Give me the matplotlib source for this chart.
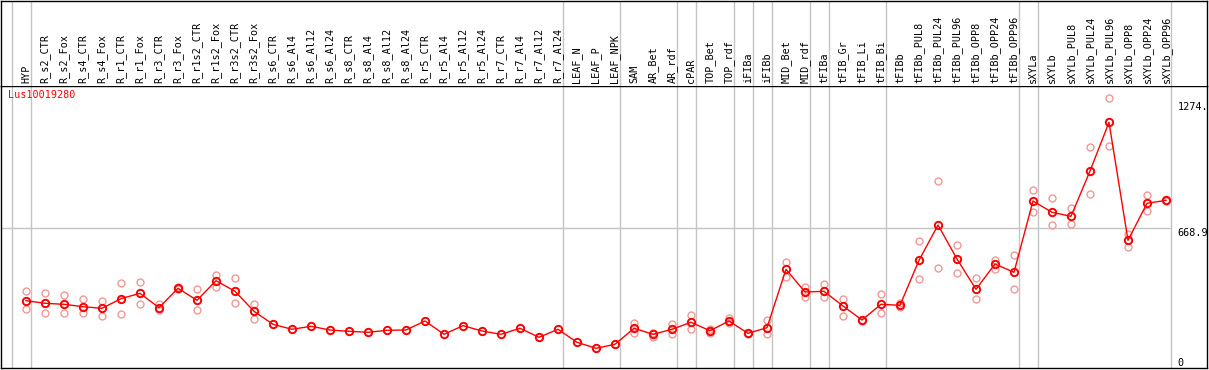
import matplotlib
matplotlib.use("Agg")
import matplotlib.pyplot as plt
import numpy as np

# sample names along the top
samples = ["HYP", "R_s2_CTR", "R_s2_Fox", "R_s4_CTR", "R_s4_Fox", "R_r1_CTR", "R_r1_Fox",
           "R_r3_CTR", "R_r3_Fox", "R_r1s2_CTR", "R_r1s2_Fox", "R_r3s2_CTR", "R_r3s2_Fox",
           "R_s6_CTR", "R_s6_Al4", "R_s6_Al12", "R_s6_Al24", "R_s8_CTR", "R_s8_Al4", "R_s8_Al12",
           "R_s8_Al24", "R_r5_CTR", "R_r5_Al4", "R_r5_Al12", "R_r5_Al24", "R_r7_CTR", "R_r7_Al4",
           "R_r7_Al12", "R_r7_Al24", "LEAF_N", "LEAF_P", "LEAF_NPK", "SAM", "AR_Bet", "AR_rdf",
           "cPAR", "TOP_Bet", "TOP_rdf", "iFIBa", "iFIBb", "MID_Bet", "MID_rdf", "tFIBa",
           "tFIB_Gr", "tFIB_Li", "tFIB_Bi", "tFIBb", "tFIBb_PUL8", "tFIBb_PUL24", "tFIBb_PUL96",
           "tFIBb_OPP8", "tFIBb_OPP24", "tFIBb_OPP96", "sXYLa", "sXYLb", "sXYLb_PUL8",
           "sXYLb_PUL24", "sXYLb_PUL96", "sXYLb_OPP8", "sXYLb_OPP24", "sXYLb_OPP96"]

# mean expression per sample
means = [322.2, 309.8, 305.0, 293.5, 285.8, 331.8, 357.7, 288.7, 381.6, 324.1, 418.0, 367.2,
         271.5, 209.2, 185.3, 199.7, 181.9, 175.7, 170.9, 180.5, 181.9, 225.0, 161.4, 202.5,
         177.2, 161.4, 190.1, 147.0, 185.3, 123.1, 94.3, 113.5, 190.1, 161.4, 185.3, 218.8,
         178.6, 225.0, 166.1, 193.0, 472.6, 363.9, 367.2, 296.9, 229.8, 305.0, 300.2, 515.7,
         684.7, 521.9, 376.8, 498.0, 458.2, 799.6, 745.5, 726.3, 943.2, 1176.4, 611.4, 788.6,
         802.9]

# replicates (None = no replicate drawn)
rep_a = [367.2, 357.7, 348.1, 328.9, 319.4, 405.5, 410.3, 307.9, 386.0, 376.8, 443.8, 429.5,
         306.4] + [None] * 19 + [216.9, 169.0, 209.2, 253.8, 188.2, 240.8, 169.0, 229.8,
         506.1, 389.3, 402.2, 330.4, 232.2, 354.3, 312.7, 606.6, 895.4, 588.9, 429.5, 518.5,
         541.0, 852.3, 812.5, 764.6, 1056.7, 1291.3, 640.2, 826.9, 805.8]
rep_b = [283.9, 261.9, 261.9, 261.9, 250.4, 257.1, 305.0, 277.7, 378.0, 276.3, 389.3, 309.8,
         236.0] + [None] * 19 + [166.1, 149.9, 162.8, 185.3, 166.1, 214.0, 162.8, 161.4,
         437.1, 338.5, 341.4, 249.0, 226.5, 261.9, 290.6, 424.7, 477.4, 454.9, 328.9, 474.0,
         376.8, 745.5, 683.2, 688.0, 831.7, 1061.5, 580.8, 750.3, 799.6]

# last sample index of each group (separators drawn just after)
group_ends = [-1, 0, 28, 31, 34, 35, 37, 38, 39, 41, 42, 45, 52, 53, 60]

gene = "Lus10019280"
mid_val = 668.9
tick_labels = [(1274, "1274.", "top"), (mid_val, "668.9", "top"), (0, "0", "bottom")]

W, H = 1209, 370
fig = plt.figure(figsize=(W / 100, H / 100), dpi=100)
mono = "DejaVu Sans Mono"
fs = 7.3

# pixel layout
left_px, right_px, sep_px, bot_px = 1, 1207, 86, 368
x0, dx = 26, 19
xlim = ((left_px - x0) / dx, (right_px - x0) / dx)
ax = fig.add_axes([left_px / W, (H - bot_px) / H, (right_px - left_px) / W, (bot_px - sep_px) / H])
hd = fig.add_axes([left_px / W, (H - sep_px) / H, (right_px - left_px) / W, (sep_px - 0.5) / H], sharex=ax)

x = np.arange(len(samples))
ra = np.array([np.nan if v is None else v for v in rep_a])
rb = np.array([np.nan if v is None else v for v in rep_b])

ax.plot(x, ra, "o", ms=5.0, mfc="none", mec="#f09898", mew=1.0, zorder=3)
ax.plot(x, rb, "o", ms=5.0, mfc="none", mec="#f09898", mew=1.0, zorder=3)
ax.plot(x, means, "-", color="red", lw=1.0, zorder=4)
ax.plot(x, means, "o", ms=5.3, mfc="none", mec="red", mew=1.4, zorder=5)

ax.set_xlim(*xlim)
ax.set_ylim(0, (bot_px - sep_px) * mid_val / (bot_px - 228.3))

sep_x = [g + 0.24 for g in group_ends]
for a in (ax, hd):
    for s in sep_x:
        a.axvline(s, color="#c4c4c4", lw=1.0, zorder=1)
    a.set_xticks([])
    a.set_yticks([])
    for sp in a.spines.values():
        sp.set_color("black")
        sp.set_linewidth(1.0)
hd.spines["bottom"].set_visible(False)
hd.set_ylim(0, 1)

ax.plot([xlim[0], sep_x[-1]], [mid_val, mid_val], color="#c4c4c4", lw=1.0, zorder=1)

for i, name in enumerate(samples):
    hd.text(i, 0.03, name, rotation=90, ha="center", va="bottom", family=mono, fontsize=fs)

ax.text(-0.95, 0.985, gene, transform=ax.get_xaxis_transform(), color="red",
        family=mono, fontsize=fs, ha="left", va="top")

for val, lab, va in tick_labels:
    ax.text(sep_x[-1] + 0.38, val, lab, family=mono, fontsize=fs, ha="left", va=va)

fig.savefig("out.png", dpi=100)
